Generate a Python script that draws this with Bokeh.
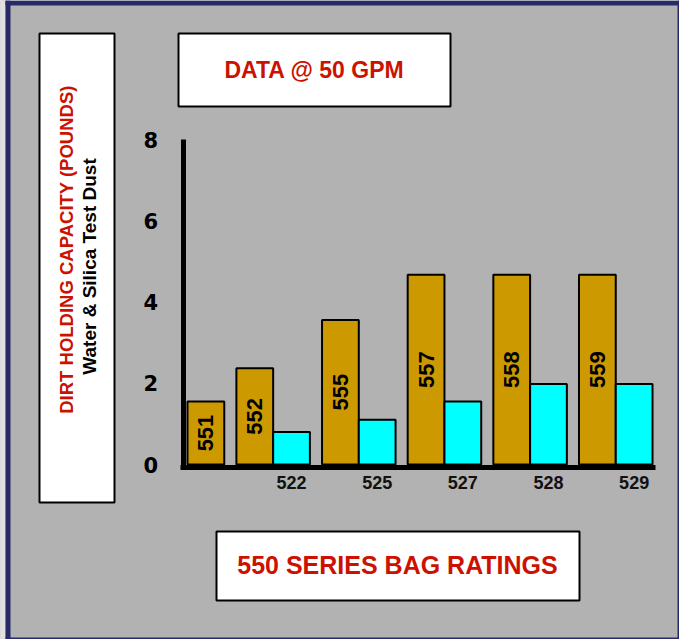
import math
from bokeh.plotting import figure
from bokeh.models import (Range1d, ColumnDataSource, Label, BoxAnnotation, LinearAxis,
                          FixedTicker)
from bokeh.core.properties import value
from bokeh.embed import file_html
from bokeh.resources import INLINE

# ---- data ----
gold_names = ["551", "552", "555", "557", "558", "559"]
gold_vals = [1.55, 2.37, 3.56, 4.67, 4.67, 4.67]
cyan_names = ["522", "525", "527", "528", "529"]   # groups 2..6
cyan_vals = [0.80, 1.10, 1.55, 1.98, 1.98]
y_ticks = [0, 2, 4, 6, 8]
title_text = "DATA @ 50 GPM"
xlabel_text = "550 SERIES BAG RATINGS"
ylabel_text = "DIRT HOLDING CAPACITY (POUNDS)"
ylabel2_text = "Water & Silica Test Dust"

GOLD = "#cc9900"
CYAN = "#00ffff"
RED = "#cc1100"
GRAY = "#b2b2b2"
NAVY = "#272a66"
TITLE_FONT = "Liberation Sans"

# ---- layout (pixels) ----
W, H = 679, 639
X0, PPX = 187.0, 36.76          # pixel of x=0, pixels per bar width
Y0, PPY = 464.0, 325.0 / 8.0    # pixel of y=0, pixels per unit
GROUP_PAD = 0.33

def dx(px):
    return (px - X0) / PPX

def dy(py):
    return (Y0 - py) / PPY

# dodge positions derived from the group structure (1 gold + optional cyan)
gold_x, cyan_x = [], []
cur = 0.0
for i in range(len(gold_names)):
    gold_x.append(cur + 0.5)
    cur += 1.0
    if i > 0:
        cyan_x.append(cur + 0.5)
        cur += 1.0
    cur += GROUP_PAD

gold_src = ColumnDataSource(dict(x=gold_x, top=gold_vals, name=gold_names,
                                 mid=[v / 2 for v in gold_vals]))
cyan_src = ColumnDataSource(dict(x=cyan_x, top=cyan_vals, name=cyan_names,
                                 zero=[0] * len(cyan_vals)))

p = figure(width=W, height=H, output_backend="svg", toolbar_location=None,
           x_axis_type=None, y_axis_type=None,
           x_range=Range1d(dx(0), dx(W)), y_range=Range1d(dy(H), dy(0)),
           min_border=0)
p.background_fill_color = GRAY
p.border_fill_color = GRAY
p.outline_line_color = None
p.grid.visible = False

# frame decoration
def dbox(l, t, r, b, **kw):
    return BoxAnnotation(left=dx(l), right=dx(r), top=dy(t), bottom=dy(b), **kw)

p.add_layout(dbox(0, 0, 5, H, fill_color="#e0e0e0", fill_alpha=1, line_color=None))
p.add_layout(dbox(5, 0, 10, H, fill_color=NAVY, fill_alpha=1, line_color=None))
p.add_layout(dbox(5, 0, W, 5, fill_color=NAVY, fill_alpha=1, line_color=None))
p.add_layout(dbox(677, 0, W, H, fill_color=NAVY, fill_alpha=1, line_color=None))
p.add_layout(dbox(5, 637, W, H, fill_color=NAVY, fill_alpha=1, line_color=None))

# text boxes
box_kw = dict(fill_color="white", fill_alpha=1, line_color="black", line_width=2,
              line_alpha=1)
p.add_layout(dbox(39, 33, 114, 502, **box_kw))
p.add_layout(dbox(178, 33, 450, 106, **box_kw))
p.add_layout(dbox(216, 531, 579, 600, **box_kw))

def lab(px, py, t, color, size, angle=0.0):
    return Label(x=dx(px), y=dy(py), text=t, angle=angle, text_align="center",
                 text_baseline="middle", text_font=TITLE_FONT,
                 text_font_style="bold", text_font_size=size, text_color=color)

p.add_layout(lab(314, 69, title_text, RED, "23px"))
p.add_layout(lab(397, 564, xlabel_text, RED, "25px"))
p.add_layout(lab(65.5, 249, ylabel_text, RED, "18.5px", math.pi / 2))
p.add_layout(lab(89, 266, ylabel2_text, "black", "19px", math.pi / 2))

# bars
p.vbar(x="x", top="top", width=1.0, source=gold_src, fill_color=GOLD,
       line_color="black", line_width=2)
p.vbar(x="x", top="top", width=1.0, source=cyan_src, fill_color=CYAN,
       line_color="black", line_width=2)

# axes
ya = LinearAxis(fixed_location=dx(182.5), bounds=(dy(469), 8),
                ticker=FixedTicker(ticks=y_ticks))
ya.axis_line_width = 5
ya.axis_line_color = "black"
ya.major_tick_line_color = None
ya.minor_tick_line_color = None
ya.major_tick_out = 0
ya.major_tick_in = 0
ya.major_label_standoff = 25
ya.major_label_text_font = "DejaVu Sans"
ya.major_label_text_font_style = "bold"
ya.major_label_text_font_size = "21px"
ya.major_label_text_color = "black"
p.add_layout(ya, "left")

xa = LinearAxis(fixed_location=dy(466.5), bounds=(dx(180), dx(655)),
                ticker=FixedTicker(ticks=[]))
xa.axis_line_width = 5
xa.axis_line_color = "black"
xa.major_tick_line_color = None
xa.minor_tick_line_color = None
xa.major_label_text_color = None
p.add_layout(xa, "below")

# bar labels
p.text(x="x", y="mid", text="name", source=gold_src, angle=math.pi / 2,
       text_align="center", text_baseline="middle",
       text_font=value("Liberation Sans"), text_font_style="bold",
       text_font_size="22px", text_color="black")
p.text(x="x", y="zero", text="name", source=cyan_src, y_offset=18,
       text_align="center", text_baseline="middle",
       text_font=value("Liberation Sans"), text_font_style="bold",
       text_font_size="18px", text_color="#111111")

open("out.html", "w").write(file_html(p, INLINE))
